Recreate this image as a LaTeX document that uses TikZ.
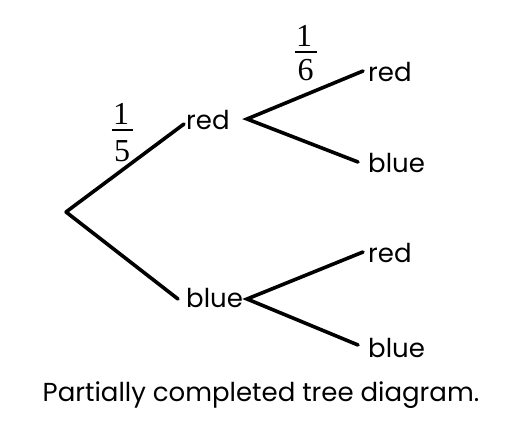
\documentclass[tikz,border=0pt]{standalone}
\usepackage{fontspec}
\setmainfont{Poppins}
\newfontfamily\fracfont{Liberation Serif}
\begin{document}
\begin{tikzpicture}[x=1pt,y=-1pt,
  lbl/.style={font=\fontsize{26}{30}\selectfont, inner sep=0pt, anchor=base west},
  digit/.style={font=\fracfont\fontsize{32}{36}\selectfont, inner sep=0pt},
  branch/.style={line width=3.6pt, line cap=round},
  fracrule/.style={line width=2pt}]
\useasboundingbox (0,0) rectangle (518,430);
% points
\coordinate (root) at (66,212);
\coordinate (v1) at (247,119);
\coordinate (v2) at (247,299);
\coordinate (e1) at (184,124);
\coordinate (e2) at (178,299);
\coordinate (e3) at (363,71);
\coordinate (e4) at (358,162);
\coordinate (e5) at (363,252);
\coordinate (e6) at (358,345);
% labels
\node[lbl] (red1) at (186,130) {red};
\node[lbl] (blue1) at (186,307) {blue};
\node[lbl] (red2) at (368,82) {red};
\node[lbl] (blue2) at (368,173) {blue};
\node[lbl] (red3) at (368,262) {red};
\node[lbl] (blue3) at (368,357) {blue};
% branches
\draw[branch] (root) -- (e1);
\draw[branch] (root) -- (e2);
\draw[branch] (e3) -- (v1) -- (e4);
\draw[branch] (e5) -- (v2) -- (e6);
% fractions
\node[digit] (n1) at (121,114) {1};
\node[digit] (d1) at (122,151) {5};
\coordinate (r1a) at (111.5,130);
\coordinate (r1b) at (132.5,130);
\draw[fracrule] (r1a) -- (r1b);
\node[digit] (n2) at (304,36) {1};
\node[digit] (d2) at (305.5,70) {6};
\coordinate (r2a) at (294.5,52);
\coordinate (r2b) at (316.5,52);
\draw[fracrule] (r2a) -- (r2b);
% caption
\node[font=\fontsize{26}{30}\selectfont, inner sep=0pt, anchor=base] (cap) at (261,401) {Partially completed tree diagram.};
\end{tikzpicture}
\end{document}
